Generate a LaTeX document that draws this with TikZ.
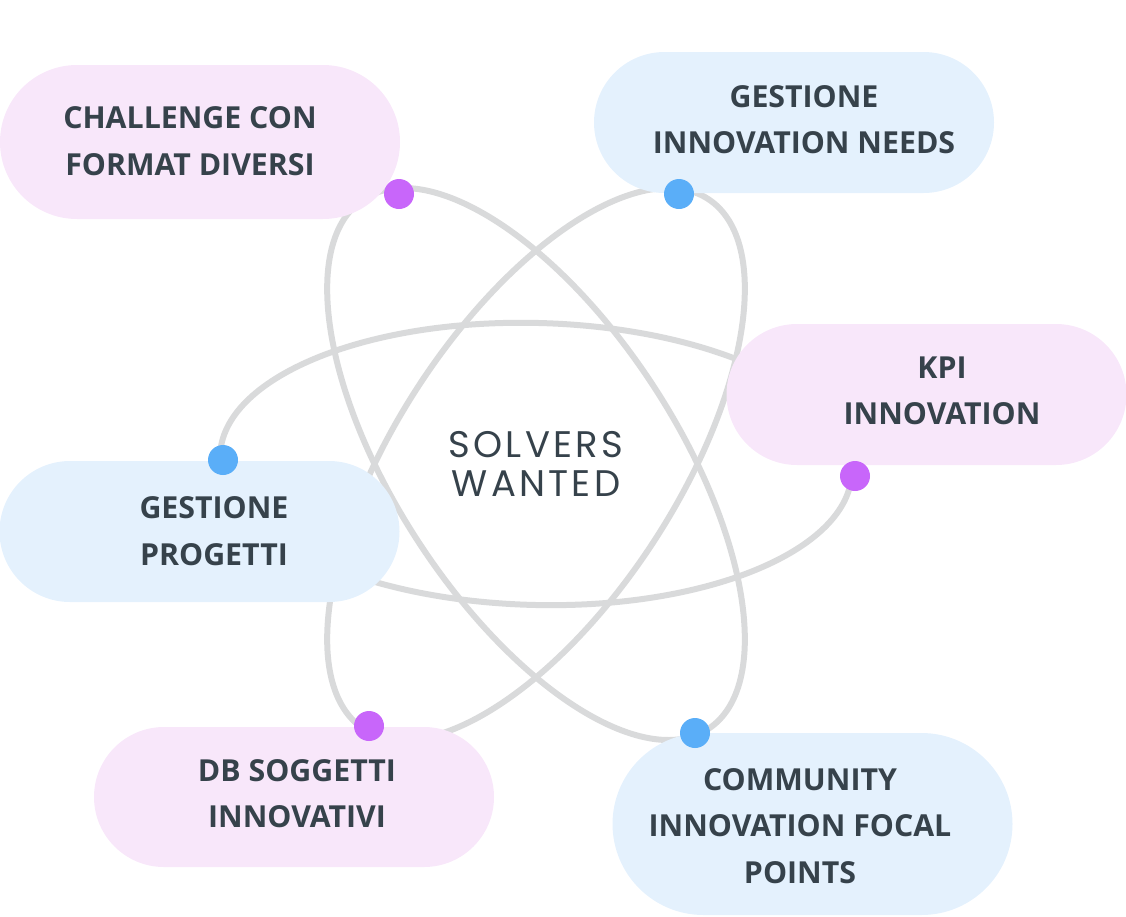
\documentclass[tikz,border=0pt]{standalone}
\usepackage{fontspec}
\setmainfont{Open Sans}
\newfontfamily\hubfont{Poppins}[LetterSpace = 9]
\usepackage{xcolor}
\usetikzlibrary{calc, positioning}

\definecolor{orbitgray}{HTML}{D9DADB}
\definecolor{pinkfill}{HTML}{F8E7FA}
\definecolor{bluefill}{HTML}{E4F1FD}
\definecolor{pinkdot}{HTML}{C866FA}
\definecolor{bluedot}{HTML}{5AAEF8}
\definecolor{ink}{HTML}{36424B}

\begin{document}
\begin{tikzpicture}[x = 1pt, y = -1pt,
  orbit/.style = {draw = orbitgray, line width = 6pt},
  pill/.style = {rectangle, minimum width = 400pt, minimum height = 2*#1, rounded corners = #1, inner sep = 0pt},
  pinkpill/.style = {pill = #1, fill = pinkfill},
  bluepill/.style = {pill = #1, fill = bluefill},
  txt/.style = {align = center, text = ink, font = \fontsize{30.3}{46.5}\selectfont\bfseries, inner sep = 0pt},
  dot/.style = {circle, minimum size = 30pt, inner sep = 0pt}]
\useasboundingbox (0,0) rectangle (1126,916);

% orbits
\coordinate (core) at (536,464);
\foreach \a in {-1.5, 57, -57}{
\draw[orbit, rotate around = {\a:(core)}] (core) ellipse [x radius = 316pt, y radius = 141pt];
}

% pills
\node[pinkpill = 77pt] (challenge) at (200,142) {};
\node[bluepill = 70.5pt] (needs) at (794,122.5) {};
\node[pinkpill = 70.5pt] (kpi) at (926.5,394.5) {};
\node[bluepill = 70.5pt] (progetti) at (199.5,531.5) {};
\node[pinkpill = 70pt] (db) at (294,797) {};
\node[bluepill = 91pt] (community) at (812.5,824) {};

% labels
\node[txt] (challengeT) at (190,141) {CHALLENGE CON\\FORMAT DIVERSI};
\node[txt] (needsT) at (804,119.5) {GESTIONE\\INNOVATION NEEDS};
\node[txt] (kpiT) at (942,391) {KPI\\INNOVATION};
\node[txt] (progettiT) at (214,531) {GESTIONE\\PROGETTI};
\node[txt] (dbT) at (297,793.5) {DB SOGGETTI\\INNOVATIVI};
\node[txt] (communityT) at (800,826) {COMMUNITY\\INNOVATION FOCAL\\POINTS};
\node[align = center, text = ink, inner sep = 0pt, font = \hubfont\fontsize{37}{39.5}\selectfont] (hub) at (core) {SOLVERS\\WANTED};

% dots
\foreach \x/\y/\c [count = \i] in {399/194/pinkdot, 679/194/bluedot, 855/476/pinkdot, 223/460/bluedot, 369/726/pinkdot, 695/733/bluedot}{
\node[dot, fill = \c] (dot\i) at (\x,\y) {};
}
\end{tikzpicture}
\end{document}
